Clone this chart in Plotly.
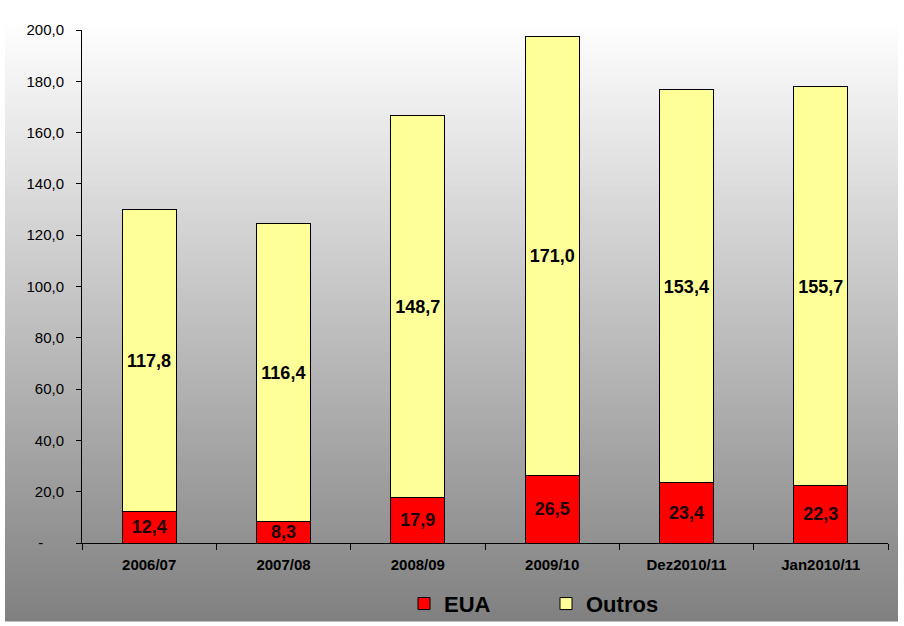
import plotly.graph_objects as go

categories = ["2006/07", "2007/08", "2008/09", "2009/10", "Dez2010/11", "Jan2010/11"]
eua = [12.4, 8.3, 17.9, 26.5, 23.4, 22.3]
outros = [117.8, 116.4, 148.7, 171.0, 153.4, 155.7]
ytick_vals = [0, 20, 40, 60, 80, 100, 120, 140, 160, 180, 200]
ytick_text = ["-\u2007\u2007\u00a0"] + [f"{v:.1f}".replace(".", ",") for v in ytick_vals[1:]]

W, H = 904, 626
L, R, T, B = 82, 16, 30, 83
pw, ph = W - L - R, H - T - B

def fmt(v):
    return f"{v:.1f}".replace(".", ",")

fig = go.Figure()
fig.add_trace(go.Bar(
    x=categories, y=eua, name="EUA",
    marker=dict(color="#FF0000", line=dict(color="black", width=1)),
    text=[fmt(v) for v in eua], textposition="inside", insidetextanchor="middle",
    textangle=0,
    textfont=dict(family="Arial", size=18, color="#1a0000", weight="bold"),
    width=0.4,
))
fig.add_trace(go.Bar(
    x=categories, y=outros, name="Outros",
    marker=dict(color="#FFFF99", line=dict(color="black", width=1)),
    text=[fmt(v) for v in outros], textposition="inside", insidetextanchor="middle",
    textangle=0,
    textfont=dict(family="Arial", size=21, color="black", weight="bold"),
    width=0.4,
))

# gradient background stripes
shapes = []
gx0, gx1, gy0, gy1 = 5, 898, 20, 621
n = 150
for i in range(n):
    p0 = gy0 + (gy1 - gy0) * i / n
    p1 = gy0 + (gy1 - gy0) * (i + 1) / n + 0.6
    c = int(round(255 - 127 * (i + 0.5) / n))
    shapes.append(dict(
        type="rect", xref="paper", yref="paper", layer="below",
        x0=(gx0 - L) / pw, x1=(gx1 - L) / pw,
        y0=(H - B - p1) / ph, y1=(H - B - p0) / ph,
        line=dict(width=0), fillcolor=f"rgb({c},{c},{c})",
    ))

fig.update_layout(
    width=W, height=H,
    margin=dict(l=L, r=R, t=T, b=B, pad=0, autoexpand=False),
    barmode="stack",
    paper_bgcolor="white",
    plot_bgcolor="rgba(0,0,0,0)",
    shapes=shapes,
    font=dict(family="Arial", color="black"),
    uniformtext=dict(minsize=18, mode="show"),
    showlegend=True,
    legend=dict(orientation="h", x=(404 - L) / pw, xanchor="left", y=-0.0775, yanchor="top",
                traceorder="normal",
                font=dict(family="Arial", size=22, color="black", weight="bold"),
                bgcolor="rgba(0,0,0,0)", entrywidth=97, entrywidthmode="pixels",
                itemwidth=30),
)
fig.update_yaxes(
    range=[0, 200], tickvals=ytick_vals, ticktext=ytick_text,
    showgrid=False, zeroline=False, showline=True, linecolor="black", linewidth=1,
    ticks="outside", ticklen=5, tickcolor="black", ticklabelstandoff=9,
    tickfont=dict(family="Arial", size=15, color="black"),
)
fig.update_xaxes(
    showgrid=False, showline=True, linecolor="black", linewidth=1,
    ticks="outside", ticklen=6, tickcolor="black", tickson="boundaries",
    ticklabelstandoff=8,
    tickfont=dict(family="Arial", size=15, color="black", weight="bold"),
)
fig.write_html("out.html")
